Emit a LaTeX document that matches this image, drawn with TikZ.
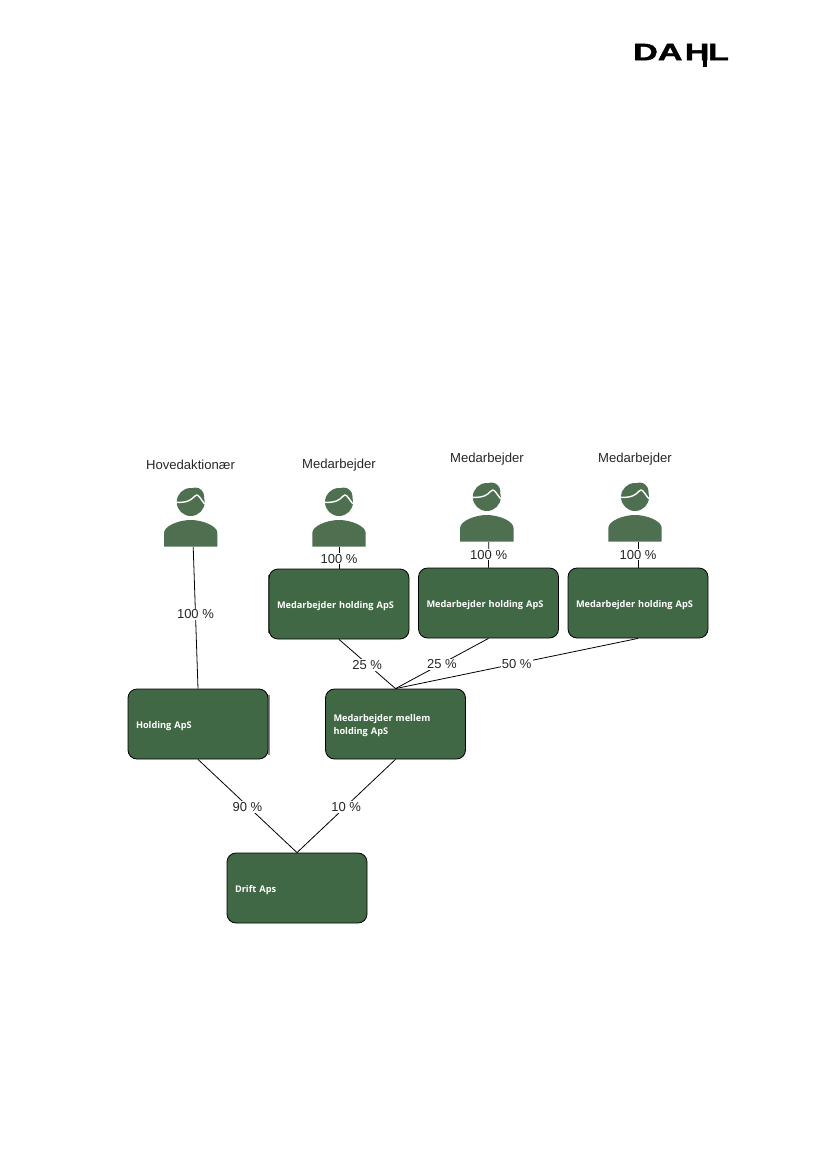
\documentclass[tikz,border=0pt]{standalone}
\usepackage{fontspec}
\setmainfont{Liberation Sans}
\newfontfamily\boxfont{Open Sans}
\newfontfamily\logofont[FakeBold=1.6]{Liberation Sans Bold}
\definecolor{boxgreen}{RGB}{65,104,69}
\definecolor{mangreen}{RGB}{78,111,80}
\newcommand{\dropline}{\rule{0pt}{10.5pt}}
\tikzset{
  orgbox/.style={draw=black,line width=0.8pt,fill=boxgreen,rounded corners=9pt,text=white,
    minimum width=140pt,minimum height=70pt,text width=124pt,inner sep=0pt,align=left,
    font=\boxfont\bfseries\fontsize{9.2}{13}\selectfont},
  title/.style={font=\fontsize{13.1}{15}\selectfont,text=black!85,inner sep=0pt},
  pct/.style={font=\fontsize{13}{15}\selectfont,text=black!85,fill=white,inner sep=1pt},
  link/.style={draw=black,line width=0.8pt},
  manshape/.style={fill=mangreen,draw=none},
  hairline/.style={draw=white,line width=1.4pt,line cap=round,line join=round}
}
\newcommand{\manicon}[3]{%
  \begin{scope}[shift={(#2,#3)}]
    \fill[manshape] (0,0) circle (14);
    \fill[manshape] (4.5,-5.5) circle (9);
    \fill[manshape] (-26.7,44.7) -- (-26.7,31) .. controls (-26.7,24) and (-12,18) .. (0,18)
       .. controls (12,18) and (26.7,24) .. (26.7,31) -- (26.7,44.7) -- cycle;
    \draw[hairline] (-14,0.3) .. controls (-8,0.6) and (-3,0) .. (1,-3) .. controls (3,-4.5) and (4.5,-7) .. (6,-7)
       .. controls (8,-7) and (10,-3) .. (13.6,1.5);
    \node[minimum width=53pt,minimum height=59pt,inner sep=0pt] (#1) at (0,15.2) {};
  \end{scope}}
\begin{document}
\begin{tikzpicture}[x=1pt,y=-1pt]
\useasboundingbox (0,0) rectangle (827,1169);
% logo
\node[inner sep=0pt,anchor=base west] (logo) at (633,60.2) {\scalebox{1.44}[1]{\fontsize{23.7}{24}\logofont\selectfont DA\kern1.6pt H\kern-1pt L}};
\fill[black] (702.8,44) rectangle (706.9,67);
% titles
\node[title] (t1) at (190.5,465) {Hovedaktionær};
\node[title] (t2) at (339,465) {Medarbejder};
\node[title] (t3) at (487,459.5) {Medarbejder};
\node[title] (t4) at (635,459.5) {Medarbejder};
% people
\manicon{p1}{190.7}{502}
\manicon{p2}{339}{502}
\manicon{p3}{486.8}{497}
\manicon{p4}{635}{497}
% boxes
\fill[black!45] (268,695) rectangle (269.5,755);
\fill[black!60] (268,575) rectangle (270,633);
\node[orgbox] (b1) at (339,604) {\dropline Medarbejder holding ApS};
\node[orgbox] (b2) at (488.5,603) {\dropline Medarbejder holding ApS};
\node[orgbox] (b3) at (638,603) {\dropline Medarbejder holding ApS};
\node[orgbox] (h) at (198,724) {\dropline Holding ApS};
\node[orgbox] (m) at (395.5,724) {\dropline Medarbejder mellem\\holding ApS};
\node[orgbox] (d) at (297,888) {\dropline Drift Aps};
% connectors
\draw[link] ([xshift=2.5pt]p1.south) -- node[pct,pos=0.47,yshift=-1pt] {100 \%} (h.north);
\draw[link] (p2.south) -- node[pct,pos=0.5,yshift=-1pt] {100 \%} (b1.north);
\draw[link] ([xshift=2pt]p3.south) -- node[pct,pos=0.46,yshift=-1pt] {100 \%} (b2.north);
\draw[link] ([xshift=3pt]p4.south) -- node[pct,pos=0.46,yshift=-1pt] {100 \%} (b3.north);
\draw[link] (b1.south) -- node[pct,pos=0.5,yshift=-1pt] {25 \%} (m.north);
\draw[link] (b2.south) -- node[pct,pos=0.5,yshift=-1pt] {25 \%} (m.north);
\draw[link] (b3.south) -- node[pct,pos=0.5,yshift=-1pt] {50 \%} (m.north);
\draw[link] (h.south) -- node[pct,pos=0.5,yshift=-1pt] {90 \%} (d.north);
\draw[link] (m.south) -- node[pct,pos=0.5,yshift=-1pt] {10 \%} (d.north);
\end{tikzpicture}
\end{document}
